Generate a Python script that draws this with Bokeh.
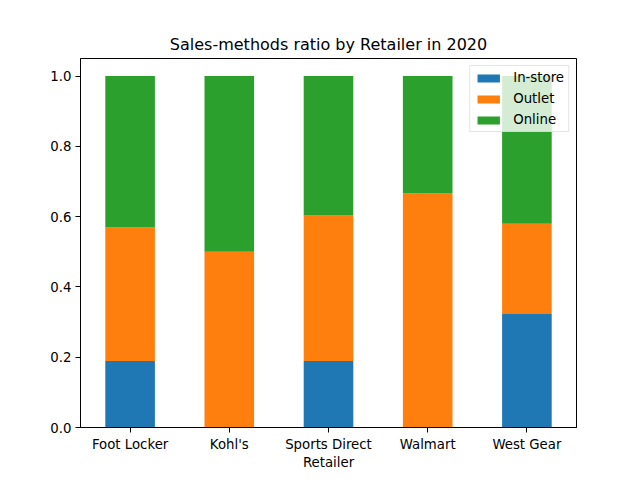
from bokeh.plotting import figure
from bokeh.models import ColumnDataSource, FixedTicker, PrintfTickFormatter, Range1d
from bokeh.embed import file_html
from bokeh.resources import INLINE

retailers = ["Foot Locker", "Kohl's", "Sports Direct", "Walmart", "West Gear"]
instore = [0.189, 0.0, 0.189, 0.0, 0.323]
outlet = [0.380, 0.500, 0.414, 0.666, 0.257]
online = [0.431, 0.500, 0.397, 0.334, 0.420]
methods = ["In-store", "Outlet", "Online"]
colors = ["#1f77b4", "#ff7f0e", "#2ca02c"]
y_ticks = [0.0, 0.2, 0.4, 0.6, 0.8, 1.0]

xs = list(range(len(retailers)))
src = ColumnDataSource(dict(x=xs, instore=instore, outlet=outlet, online=online))

FONT = "DejaVu Sans"
p = figure(width=632, height=472, output_backend="svg", toolbar_location=None,
           x_range=Range1d(-0.5, len(retailers) - 0.5), y_range=Range1d(0, 1.05),
           min_border_left=80, min_border_right=56, min_border_top=58, min_border_bottom=45)
p.vbar_stack(["instore", "outlet", "online"], x="x", width=0.5, color=colors,
             line_color=None, source=src, legend_label=methods)

p.title.text = "Sales-methods ratio by Retailer in 2020"
p.title.align = "center"
p.title.text_font = FONT
p.title.text_font_size = "16px"
p.title.text_font_style = "normal"
p.title.text_color = "black"
p.title.standoff = 10

p.xgrid.visible = False
p.ygrid.visible = False
p.outline_line_color = "black"
p.outline_line_width = 1

p.xaxis.ticker = FixedTicker(ticks=xs)
p.xaxis.major_label_overrides = {i: r for i, r in enumerate(retailers)}
p.yaxis.ticker = FixedTicker(ticks=y_ticks)
p.yaxis.formatter = PrintfTickFormatter(format="%.1f")
p.xaxis.axis_label = "Retailer"
for ax in (p.xaxis, p.yaxis):
    ax.major_label_text_font = FONT
    ax.major_label_text_font_size = "13.3px"
    ax.major_label_text_color = "black"
    ax.axis_label_text_font = FONT
    ax.axis_label_text_font_size = "13.3px"
    ax.axis_label_text_font_style = "normal"
    ax.axis_label_text_color = "black"
    ax.minor_tick_line_color = None
    ax.major_tick_in = 0
    ax.major_tick_out = 5
    ax.major_tick_line_color = "black"
    ax.axis_line_color = "black"
    ax.major_label_standoff = 4
p.xaxis.axis_label_standoff = 0

lg = p.legend[0]
lg.location = "top_right"
lg.margin = 7
lg.padding = 4
lg.spacing = 6
lg.glyph_width = 28
lg.glyph_height = 10
lg.label_height = 12
lg.label_text_font = FONT
lg.label_text_font_size = "13.3px"
lg.label_text_color = "black"
lg.label_standoff = 11
lg.border_line_color = "#cccccc"
lg.background_fill_alpha = 0.8

open("out.html", "w").write(file_html(p, INLINE))
